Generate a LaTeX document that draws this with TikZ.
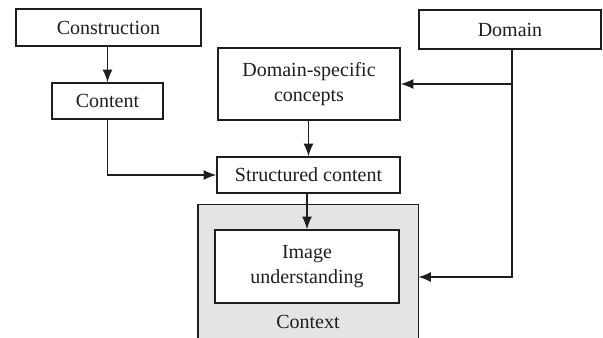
\documentclass[tikz,border=0pt]{standalone}
\usepackage{fontspec}
\setmainfont{Liberation Serif}
\usetikzlibrary{arrows.meta}
\definecolor{ink}{HTML}{1E1E1E}
\definecolor{ctxgray}{HTML}{E4E4E4}
\begin{document}
\begin{tikzpicture}[x=0.75pt,y=-0.75pt,
  box/.style={draw=ink,line width=1.05pt,fill=white,text=ink,inner sep=0pt,
    align=center,font=\fontsize{15}{18.5}\selectfont},
  link/.style={draw=ink,line width=1.05pt},
  arr/.style={link,-{Latex[length=9.5pt,width=7.5pt]}}]
\useasboundingbox (0,0) rectangle (603,338);
% context region (open at the bottom)
\node[fill=ctxgray,minimum width=220*0.75pt,minimum height=134*0.75pt,inner sep=0pt]
  (ctx) at (308,272) {};
\draw[ink,line width=1.15pt] (ctx.south west) -- (ctx.north west) -- (ctx.north east) -- (ctx.south east);
\node[text=ink,font=\fontsize{15}{18.5}\selectfont] (ctxlbl) at (308,322) {Context};
% boxes
\node[box,minimum width=185*0.75pt,minimum height=37*0.75pt] (cons) at (108.5,27.5) {Construction};
\node[box,minimum width=111*0.75pt,minimum height=36*0.75pt] (cont) at (107.5,101) {Content};
\node[box,minimum width=182*0.75pt,minimum height=72*0.75pt] (dsc) at (309,84) {Domain-specific\\concepts};
\node[box,minimum width=182*0.75pt,minimum height=39*0.75pt] (dom) at (510,29.5) {Domain};
\node[box,minimum width=183*0.75pt,minimum height=36*0.75pt] (sc) at (308.5,175) {Structured content};
\node[box,minimum width=184*0.75pt,minimum height=73*0.75pt] (iu) at (307,266.5) {Image\\understanding};
% connectors
\draw[arr] (cons.south -| cont.north) -- (cont.north);
\draw[arr] (cont.south) |- (sc.west);
\draw[arr] (dsc.south -| sc.north) -- (sc.north);
\draw[arr] (sc.south -| iu.north) -- (iu.north);
\coordinate (dturn) at (512,277);
\draw[arr] (dom.south -| dturn) |- (dsc.east);
\draw[arr] (dom.south -| dturn) -- (dturn) -- (ctx.east |- dturn);
\end{tikzpicture}
\end{document}
